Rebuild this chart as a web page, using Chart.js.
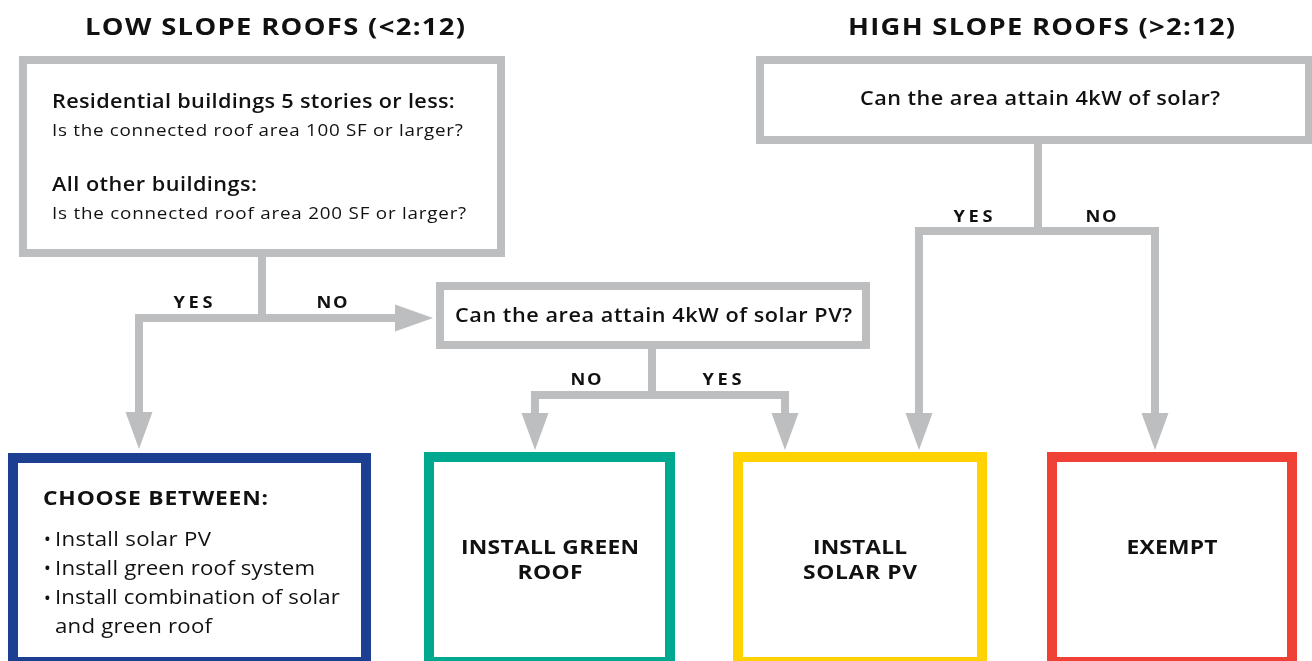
<!DOCTYPE html>
<html><head><meta charset="utf-8">
<script src="https://cdn.jsdelivr.net/npm/chart.js@4.4.1/dist/chart.umd.min.js"></script>
<style>html,body{margin:0;padding:0;background:#fff;overflow:hidden}#wrap{width:1312px;height:661px;position:relative}</style>
</head><body><div id="wrap"><canvas id="c" width="1312" height="661"></canvas></div>
<script>
// ---------- content (text of the flowchart) ----------
const sectionTitles = ['LOW SLOPE ROOFS (<2:12)', 'HIGH SLOPE ROOFS (>2:12)'];
const lowQuestionHeads = ['Residential buildings 5 stories or less:', 'All other buildings:'];
const lowQuestionLines = ['Is the connected roof area 100 SF or larger?', 'Is the connected roof area 200 SF or larger?'];
const highQuestion = ['Can the area attain 4kW of solar?'];
const pvQuestion = ['Can the area attain 4kW of solar PV?'];
const branchLabels = ['YES', 'NO', 'NO', 'YES', 'YES', 'NO'];
const chooseTitle = ['CHOOSE BETWEEN:'];
const chooseOptions = [['Install solar PV'], ['Install green roof system'], ['Install combination of solar', 'and green roof']];
const outcomeLabels = [['INSTALL GREEN', 'ROOF'], ['INSTALL', 'SOLAR PV'], ['EXEMPT']];

// ---------- layout (diagram coordinates, mapped through the chart scales) ----------
const GRAY = '#bcbec0';
const FONT = '"Open Sans", "Noto Sans", sans-serif';
const boxLayout = [
  { x0: 19, y0: 56, x1: 505, y1: 257, bw: 8, color: GRAY },
  { x0: 756, y0: 56, x1: 1313, y1: 144, bw: 8, color: GRAY },
  { x0: 436, y0: 282, x1: 870, y1: 349, bw: 8, color: GRAY },
  { x0: 8, y0: 453, x1: 371, y1: 667, bw: 10, color: '#1d3f91' },
  { x0: 424, y0: 452, x1: 675, y1: 667, bw: 10, color: '#00a88f' },
  { x0: 733, y0: 452, x1: 987, y1: 667, bw: 10, color: '#ffd200' },
  { x0: 1047, y0: 452, x1: 1297, y1: 667, bw: 10, color: '#ef4136' }
];
const connectorPaths = [
  [[262, 255], [262, 318]],
  [[139, 413], [139, 318], [396, 318]],
  [[652, 347], [652, 395]],
  [[535, 414], [535, 395], [785, 395], [785, 414]],
  [[1038, 142], [1038, 231]],
  [[919, 414], [919, 231], [1155, 231], [1155, 414]]
];
const arrowHeads = [
  { x: 139, y: 412, dir: 'down' }, { x: 395, y: 318, dir: 'right' },
  { x: 535, y: 413, dir: 'down' }, { x: 785, y: 413, dir: 'down' },
  { x: 919, y: 413, dir: 'down' }, { x: 1155, y: 413, dir: 'down' }
];
const branchPos = [[193, 303], [332, 303], [586, 380], [722, 380], [973, 217], [1101, 217]];
const branchW = { YES: 39, NO: 31 };

const datasets = connectorPaths.map(p => ({
  data: p.map(([x, y]) => ({ x, y })),
  showLine: true, borderColor: GRAY, borderWidth: 8, pointRadius: 0, pointHoverRadius: 0,
  borderJoinStyle: 'miter', borderCapStyle: 'butt', tension: 0, clip: false, fill: false
}));

function px(chart, x) { return chart.scales.x.getPixelForValue(x); }
function py(chart, y) { return chart.scales.y.getPixelForValue(y); }

// draw a text line spread to a given width (the original typeface is wider):
// glyphs are widened a little, the remainder goes into letter spacing
function fitText(chart, s, x, y, font, align, width) {
  const ctx = chart.ctx;
  ctx.font = font;
  ctx.textAlign = 'left';
  const hasLS = ('letterSpacing' in ctx);
  if (hasLS) ctx.letterSpacing = '0px';
  const w = ctx.measureText(s).width;
  const X = px(chart, x), Y = py(chart, y);
  const left = align === 'center' ? X - width / 2 : X;
  let k = hasLS ? Math.min(1.14, width / w) : width / w;
  ctx.save();
  ctx.translate(left, Y);
  ctx.scale(k, 1);
  if (hasLS && s.length > 1) {
    const sp = (width / k - w) / (s.length - 1);
    ctx.letterSpacing = sp.toFixed(2) + 'px';
  }
  ctx.fillText(s, 0, 0);
  if (hasLS) ctx.letterSpacing = '0px';
  ctx.restore();
}

const flowPlugin = {
  id: 'flow',
  beforeDatasetsDraw(chart) {
    const ctx = chart.ctx;
    ctx.save();
    boxLayout.forEach(b => {
      const X0 = px(chart, b.x0), Y0 = py(chart, b.y0), X1 = px(chart, b.x1), Y1 = py(chart, b.y1);
      ctx.fillStyle = b.color;
      ctx.fillRect(X0, Y0, X1 - X0, Y1 - Y0);
      ctx.fillStyle = '#ffffff';
      ctx.fillRect(X0 + b.bw, Y0 + b.bw, X1 - X0 - 2 * b.bw, Y1 - Y0 - 2 * b.bw);
    });
    ctx.restore();
  },
  afterDatasetsDraw(chart) {
    const ctx = chart.ctx;
    ctx.save();
    ctx.fillStyle = GRAY;
    arrowHeads.forEach(a => {
      const X = px(chart, a.x), Y = py(chart, a.y);
      ctx.beginPath();
      if (a.dir === 'down') {
        ctx.moveTo(X - 13.5, Y); ctx.lineTo(X + 13.5, Y); ctx.lineTo(X, Y + 37);
      } else {
        ctx.moveTo(X, Y - 13.5); ctx.lineTo(X, Y + 13.5); ctx.lineTo(X + 38, Y);
      }
      ctx.closePath(); ctx.fill();
    });
    ctx.fillStyle = '#111111';
    ctx.textBaseline = 'middle';
    const T = (s, x, y, font, align, w) => fitText(chart, s, x, y, font, align, w);
    // section titles
    T(sectionTitles[0], 275, 28, '700 24px ' + FONT, 'center', 380);
    T(sectionTitles[1], 1041.5, 28, '700 24px ' + FONT, 'center', 387);
    // low slope question box
    T(lowQuestionHeads[0], 52, 103, '600 19px ' + FONT, 'left', 403);
    T(lowQuestionLines[0], 52, 131, '400 16.5px ' + FONT, 'left', 411);
    T(lowQuestionHeads[1], 52, 186, '600 19px ' + FONT, 'left', 205);
    T(lowQuestionLines[1], 52, 214, '400 16.5px ' + FONT, 'left', 414);
    // other questions
    T(highQuestion[0], 1040, 100, '600 19px ' + FONT, 'center', 360);
    T(pvQuestion[0], 653.5, 317, '600 19px ' + FONT, 'center', 397);
    // branch labels
    branchLabels.forEach((s, i) => T(s, branchPos[i][0], branchPos[i][1], '700 16px ' + FONT, 'center', branchW[s]));
    // choose between box
    T(chooseTitle[0], 43, 499, '700 20px ' + FONT, 'left', 225);
    const optW = [[156], [260], [285, 157]];
    let yy = 540;
    chooseOptions.forEach((opt, i) => {
      ctx.font = '700 14px ' + FONT; ctx.textAlign = 'center';
      ctx.fillText('\u2022', px(chart, 47.5), py(chart, yy));
      opt.forEach((line, j) => { T(line, 55, yy, '400 19.5px ' + FONT, 'left', optW[i][j]); yy += 29.3; });
    });
    // outcomes
    const outX = [550, 860, 1172];
    const outW = [[178, 65], [94, 114], [91]];
    outcomeLabels.forEach((lines, i) => {
      lines.forEach((l, j) => T(l, outX[i], 548 + j * 25, '700 20px ' + FONT, 'center', outW[i][j]));
    });
    ctx.restore();
  }
};

new Chart(document.getElementById('c'), {
  type: 'scatter',
  data: { datasets },
  options: {
    responsive: false, animation: false, devicePixelRatio: 1,
    layout: { padding: 0 },
    plugins: { legend: { display: false }, tooltip: { enabled: false }, title: { display: false } },
    events: [],
    scales: {
      x: { type: 'linear', min: 0, max: 1312, display: false },
      y: { type: 'linear', min: 0, max: 661, reverse: true, display: false }
    }
  },
  plugins: [flowPlugin]
});
</script>
</body></html>
